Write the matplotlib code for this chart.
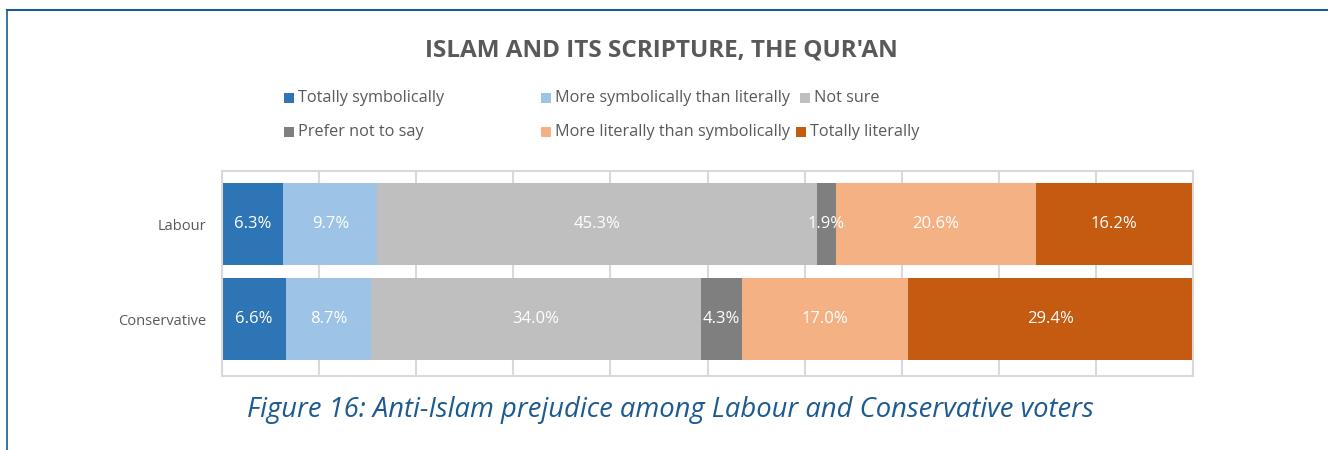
import numpy as np
import matplotlib
matplotlib.use("Agg")
import matplotlib.pyplot as plt
from matplotlib.patches import Rectangle
from matplotlib.lines import Line2D

# ── Data ───────────────────────────────────────────────────
parties = ["Labour", "Conservative"]
answers = ["Totally symbolically", "More symbolically than literally", "Not sure",
           "Prefer not to say", "More literally than symbolically", "Totally literally"]
labour = [6.3, 9.7, 45.3, 1.9, 20.6, 16.2]
conservative = [6.6, 8.7, 34.0, 4.3, 17.0, 29.4]

colors = ["#2E75B6", "#9DC3E6", "#BFBFBF", "#7F7F7F", "#F4B183", "#C55A11"]
C_TEXT = "#595959"
C_GRID = "#D9D9D9"
C_BLUE = "#1C5A90"

plt.rcParams["font.family"] = ["Open Sans", "DejaVu Sans"]

W, H = 1328, 450
fig = plt.figure(figsize=(W / 100, H / 100), dpi=100)
fig.patch.set_facecolor("white")

# frame lines (top + left)
fig.add_artist(Line2D([7 / W, 1], [1 - 10 / H, 1 - 10 / H], color=C_BLUE, lw=1.5))
fig.add_artist(Line2D([7 / W, 7 / W], [0, 1 - 10 / H], color=C_BLUE, lw=1.2))

# ── Bars ───────────────────────────────────────────────────
ax = fig.add_axes([222 / W, (H - 376) / H, (1193 - 222) / W, 205 / H])
data = np.array([labour, conservative])
ypos = np.arange(len(parties))
left = np.zeros(len(parties))
for k in range(len(answers)):
    ax.barh(ypos, data[:, k], left=left, height=0.86, color=colors[k], zorder=2)
    for i in range(len(parties)):
        ax.text(left[i] + data[i, k] / 2, ypos[i], f"{data[i, k]:.1f}%",
                ha="center", va="center", fontsize=12, color="white", zorder=3)
    left += data[:, k]

ax.set_xlim(0, 100)
ax.set_ylim(1.6, -0.56)
ax.set_xticks(np.arange(0, 101, 10))
ax.set_xticklabels([])
ax.tick_params(length=0)
ax.set_yticks(ypos)
ax.set_yticklabels(parties, fontsize=10.5, color=C_TEXT)
ax.tick_params(axis="y", pad=11)
ax.grid(True, axis="x", color=C_GRID, lw=1.5, zorder=0)
for s in ax.spines.values():
    s.set_color(C_GRID)
    s.set_linewidth(1.5)

# ── Title ──────────────────────────────────────────────────
fig.text(661 / W, 1 - 50 / H, "ISLAM AND ITS SCRIPTURE, THE QUR'AN",
         ha="center", va="center", fontsize=17.5, fontweight="bold", color=C_TEXT)

# ── Legend (manual, Excel-style) ───────────────────────────
leg_pos = [(284, 98), (541, 98), (800, 98), (284, 132), (541, 132), (796, 132)]
for k, (x, y) in enumerate(leg_pos):
    fig.add_artist(Rectangle((x / W, 1 - (y + 5) / H), 10 / W, 10 / H,
                             facecolor=colors[k], edgecolor="none"))
    fig.text((x + 14) / W, 1 - y / H, answers[k], ha="left", va="center",
             fontsize=11.7, color=C_TEXT)

# ── Caption ────────────────────────────────────────────────
fig.text(670 / W, 1 - 410 / H,
         "Figure 16: Anti-Islam prejudice among Labour and Conservative voters",
         ha="center", va="center", fontsize=19.7, style="italic", color=C_BLUE)

fig.savefig("out.png", dpi=100, facecolor="white")
